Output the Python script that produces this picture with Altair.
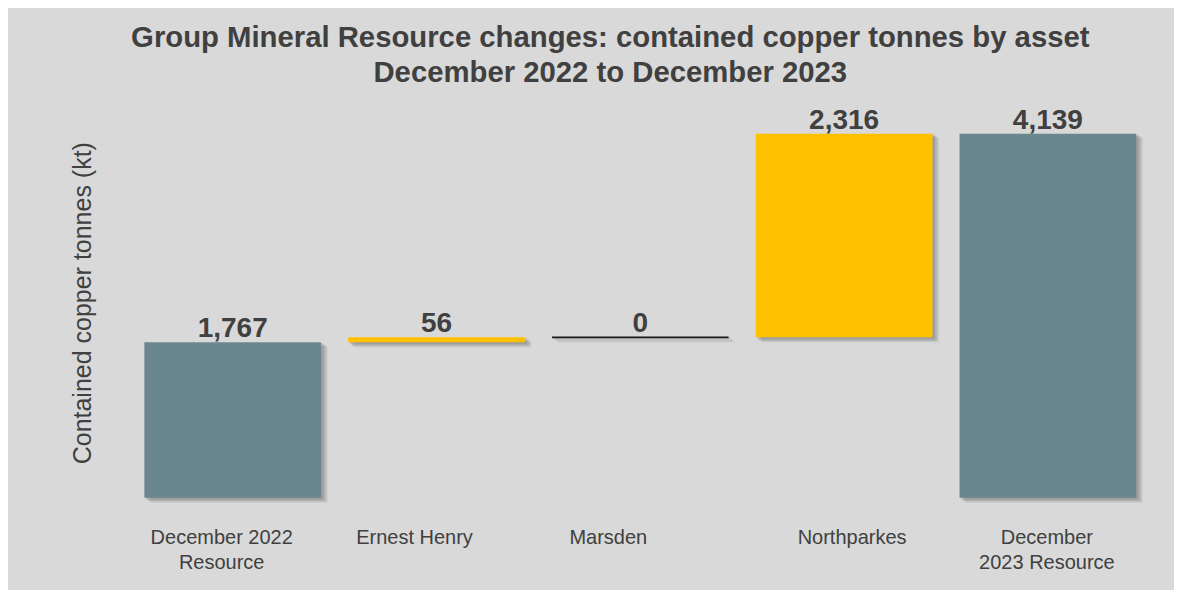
import altair as alt
import pandas as pd

# ---- data ----
categories = ["December 2022\nResource", "Ernest Henry", "Marsden", "Northparkes", "December\n2023 Resource"]
values = [1767, 56, 0, 2316, 4139]
kinds = ["total", "change", "change", "change", "total"]

title_lines = ["Group Mineral Resource changes: contained copper tonnes by asset",
               "December 2022 to December 2023"]
y_title = "Contained copper tonnes (kt)"

# ---- waterfall layout (cumulative) ----
starts, ends = [], []
running = 0
for v, k in zip(values, kinds):
    if k == "total":
        starts.append(0)
        ends.append(v)
        running = v
    else:
        starts.append(running)
        ends.append(running + v)
        running += v

df = pd.DataFrame({
    "category": categories,
    "value": values,
    "kind": kinds,
    "start": starts,
    "end": ends,
    "top": [max(a, b) for a, b in zip(starts, ends)],
})

# ---- styling ----
FONT = "Liberation Sans"
TXT = "#404040"
GREY = "#6A868F"
GOLD = "#FFC000"
label_offset = {
    "condition": [
        {"test": "datum.index < 0.1", "value": -11},
        {"test": "datum.index < 0.3", "value": -22},
        {"test": "datum.index < 0.6", "value": -32},
        {"test": "datum.index < 0.8", "value": 8},
    ],
    "value": -1,
}

x_enc = alt.X(
    "category:N",
    sort=categories,
    scale=alt.Scale(paddingInner=0.133, paddingOuter=0.0665),
    axis=alt.Axis(
        title=None,
        labelExpr="split(datum.label, '\\n')",
        labelFont=FONT,
        labelFontSize=20,
        labelColor=TXT,
        labelLineHeight=25,
        labelPadding=30,
        labelAngle=0,
        labelOffset=label_offset,
        domain=False,
        ticks=False,
    ),
)

y_scale = alt.Scale(domain=[0, 4548], nice=False)
y_enc = alt.Y(
    "start:Q",
    scale=y_scale,
    axis=alt.Axis(
        title=y_title,
        labels=False,
        ticks=False,
        domain=False,
        grid=False,
        titleFont=FONT,
        titleFontSize=25,
        titleFontWeight="normal",
        titleColor=TXT,
        titlePadding=35,
        titleY=205,
    ),
)

base = alt.Chart(df)

shadows = [
    base.mark_bar(color="#505050", stroke="#505050", strokeWidth=1, opacity=o,
                  xOffset=dx, yOffset=dy, x2Offset=dx, y2Offset=dy)
    .encode(x=x_enc, y=y_enc, y2="end:Q")
    for dx, dy, o in [(2, 1.5, 0.18), (4, 3, 0.18), (6, 4.5, 0.12)]
]

bars = base.mark_bar().encode(
    x=x_enc,
    y=y_enc,
    y2="end:Q",
    color=alt.Color("kind:N", scale=alt.Scale(domain=["total", "change"], range=[GREY, GOLD]), legend=None),
    stroke=alt.condition(alt.datum.value == 0, alt.value("#1a1a1a"), alt.value("transparent")),
    strokeWidth=alt.condition(alt.datum.value == 0, alt.value(1.6), alt.value(0)),
)

labels = base.mark_text(
    dy=-5, baseline="alphabetic", font=FONT, fontSize=28, fontWeight="bold", color=TXT
).encode(
    x=alt.X("category:N", sort=categories),
    y=alt.Y("top:Q", scale=y_scale),
    text=alt.Text("value:Q", format=","),
)

chart = alt.layer(*shadows, bars, labels).properties(
    width=1019,
    height=400,
    padding={"left": 122.8, "top": 89.7, "right": 24, "bottom": 92},
    autosize=alt.AutoSizeParams(type="none"),
    background="#d9d9d9",
    title=alt.TitleParams(
        text=title_lines,
        font=FONT,
        fontSize=29.3,
        fontWeight="bold",
        color=TXT,
        lineHeight=35,
        anchor="middle",
        dx=-30,
        offset=9,
    ),
).configure_view(strokeWidth=0)

chart.save("out.html", embed_options={"renderer": "svg", "actions": False})
